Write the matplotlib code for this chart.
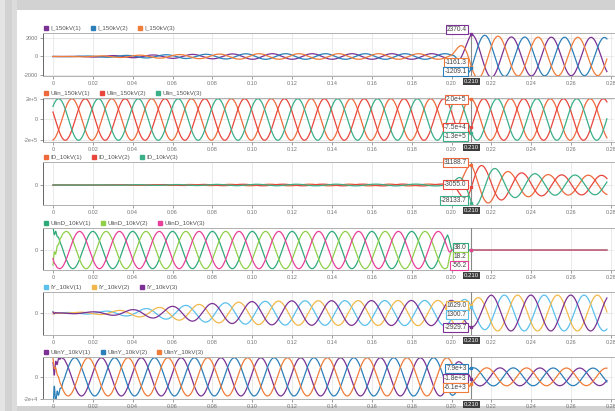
import numpy as np
import matplotlib
matplotlib.use('Agg')
import matplotlib.pyplot as plt
from matplotlib.lines import Line2D
from matplotlib.patches import Rectangle
from matplotlib.ticker import MultipleLocator, FuncFormatter

plt.rcParams['font.family'] = ['Liberation Sans', 'DejaVu Sans']
plt.rcParams['axes.unicode_minus'] = False

# 시간축
f_grid = 50
t_end = 0.278
t_cursor = 0.21
x_tick_step = 0.02

# I_150kV
i150_names = ['I_150kV(1)', 'I_150kV(2)', 'I_150kV(3)']
i150_colors = ['#7b3294', '#2c7fb8', '#f07c3a']
i150_at_cursor = [2370.4, -1209.1, -1161.3]
i150_env_t = [0, 0.02, 0.06, 0.10, 0.20, 0.21, 0.23, 0.278]
i150_env_a = [0, 60, 200, 300, 300, 2370, 2100, 2050]
i150_ylim = (-2100, 2530)
i150_yticks = [-2000, 0, 2000]

# Ulin_150kV
ulin_names = ['Ulin_150kV(1)', 'Ulin_150kV(2)', 'Ulin_150kV(3)']
ulin_colors = ['#ee6a3c', '#e8453c', '#3aaf88']
ulin_at_cursor = [2.0e5, -7.5e4, -1.3e5]
ulin_env_t = [0, 0.278]
ulin_env_a = [2.03e5, 2.03e5]
ulin_ylim = (-2.2e5, 2.1e5)
ulin_yticks = [-2e5, 0, 2e5]

# ID_10kV
id_names = ['ID_10kV(1)', 'ID_10kV(2)', 'ID_10kV(3)']
id_colors = ['#ee6a3c', '#e8453c', '#3aaf88']
id_at_cursor = [31188.7, -3055.0, -28133.7]
id_env_t = [0, 0.05, 0.10, 0.20, 0.21, 0.23, 0.25, 0.278]
id_env_a = [0, 600, 1200, 1500, 34000, 20000, 16000, 15000]
id_ylim = (-31200, 35900)
id_yticks = [0]

# UlinD_10kV
uld_names = ['UlinD_10kV(1)', 'UlinD_10kV(2)', 'UlinD_10kV(3)']
uld_colors = ['#2fa97a', '#8fcf4a', '#e8409a']
uld_at_cursor = [38.0, 18.2, -56.2]
uld_env_t = [0, 0.198, 0.200, 0.278]
uld_env_a = [9800, 9800, 0, 0]
uld_theta = 180  # (1)의 커서 위상
uld_kick = [2500, -3000, 500]
uld_ylim = (-10500, 11600)
uld_yticks = [0]

# IY_10kV
iy_names = ['IY_10kV(1)', 'IY_10kV(2)', 'IY_10kV(3)']
iy_colors = ['#5bc0eb', '#f2b84b', '#7b3294']
iy_at_cursor = [1300.7, 1629.0, -2929.7]
iy_env_t = [0, 0.01, 0.02, 0.04, 0.06, 0.08, 0.10, 0.12, 0.20, 0.21, 0.22, 0.278]
iy_env_a = [0, 150, 250, 700, 1400, 2000, 2400, 2550, 2650, 2950, 3750, 3750]
iy_kick = [300, -250, 200]
iy_ylim = (-4600, 4400)
iy_yticks = [0]

# UlinY_10kV
uly_names = ['UlinY_10kV(1)', 'UlinY_10kV(2)', 'UlinY_10kV(3)']
uly_colors = ['#7b3294', '#2c7fb8', '#f07c3a']
uly_at_cursor = [-1.8e3, 7.9e3, -6.1e3]
uly_env_t = [0, 0.20, 0.21, 0.278]
uly_env_a = [17500, 17500, 8300, 8000]
uly_kick = [9000, -14000, 4000]
uly_ylim = (-20300, 18200)
uly_yticks = [-2e4, 0]


def cursor_angle(vals):
    a, b, c = vals
    alpha = (2 * a - b - c) / 3
    beta = (b - c) / np.sqrt(3)
    return np.degrees(np.arctan2(beta, alpha))


def three_phase(t, env_t, env_a, theta, kick=None):
    env = np.interp(t, env_t, env_a)
    ang = 2 * np.pi * f_grid * (t - t_cursor) + np.deg2rad(theta)
    out = []
    for k, s in enumerate((0, -120, 120)):
        y = env * np.cos(ang + np.deg2rad(s))
        if kick is not None:
            y = y + kick[k] * np.exp(-t / 0.0015) * np.cos(2 * np.pi * 700 * t)
        out.append(y)
    return out


t = np.arange(0, t_end, 5e-5)

panels = [
    (i150_names, i150_colors, i150_at_cursor,
     three_phase(t, i150_env_t, i150_env_a, cursor_angle(i150_at_cursor)), i150_ylim, i150_yticks, 'f'),
    (ulin_names, ulin_colors, ulin_at_cursor,
     three_phase(t, ulin_env_t, ulin_env_a, cursor_angle(ulin_at_cursor)), ulin_ylim, ulin_yticks, 'e'),
    (id_names, id_colors, id_at_cursor,
     three_phase(t, id_env_t, id_env_a, cursor_angle(id_at_cursor)), id_ylim, id_yticks, 'f'),
    (uld_names, uld_colors, uld_at_cursor,
     three_phase(t, uld_env_t, uld_env_a, uld_theta, uld_kick), uld_ylim, uld_yticks, 'f'),
    (iy_names, iy_colors, iy_at_cursor,
     three_phase(t, iy_env_t, iy_env_a, cursor_angle(iy_at_cursor), iy_kick), iy_ylim, iy_yticks, 'f'),
    (uly_names, uly_colors, uly_at_cursor,
     three_phase(t, uly_env_t, uly_env_a, cursor_angle(uly_at_cursor), uly_kick), uly_ylim, uly_yticks, 'e'),
]

W, H = 615, 411
fig = plt.figure(figsize=(W / 100, H / 100), dpi=100, facecolor='#d2d2d2')

# 스크린샷 테두리
fig.patches.append(Rectangle((0, 0), 5 / W, 1, transform=fig.transFigure, fc='#e4e4e4', ec='none', zorder=-10))
fig.patches.append(Rectangle((12 / W, 0), 5 / W, 1, transform=fig.transFigure, fc='#dcdcdc', ec='none', zorder=-10))
fig.patches.append(Rectangle((17 / W, 5 / H), 1, (H - 15) / H, transform=fig.transFigure,
                             fc='white', ec='none', zorder=-9))

rows = [(33, 76), (98, 142), (162, 205), (228, 270), (292, 335), (357, 399)]
left, right = 43, 614


def ytick_fmt(v, pos):
    if v == 0:
        return '0'
    if abs(v) >= 1e4:
        return f'{v:.0e}'.replace('e+0', 'e+').replace('e-0', 'e-')
    return f'{v:.0f}'


box_h = 9.0
for (names, colors, at_cur, series, ylim, yticks, kind), (top, bot) in zip(panels, rows):
    ax = fig.add_axes([left / W, 1 - bot / H, (right - left) / W, (bot - top) / H])
    ax.set_xlim(-0.005, 0.2815)
    ax.set_ylim(*ylim)
    for y, c in zip(series, colors):
        ax.plot(t, y, color=c, lw=0.9)

    ax.xaxis.set_major_locator(MultipleLocator(x_tick_step))
    ax.xaxis.set_major_formatter(FuncFormatter(lambda v, p: '0' if abs(v) < 1e-9 else f'{v:.2f}'))
    ax.set_yticks(yticks)
    ax.yaxis.set_major_formatter(FuncFormatter(ytick_fmt))
    ax.tick_params(axis='both', labelsize=4, colors='#777777', length=2, width=0.5, pad=1.5)
    ax.grid(True, color='#e6e6e6', lw=0.6)
    ax.set_axisbelow(True)
    ax.spines['right'].set_visible(False)
    ax.spines['left'].set_color('#666666')
    ax.spines['top'].set_color('#b0b0b0')
    ax.spines['bottom'].set_color('#b0b0b0')
    for s in ax.spines.values():
        s.set_linewidth(0.7)

    handles = [Line2D([0], [0], marker='s', ls='', color=c, markersize=3) for c in colors]
    ax.legend(handles, names, loc='lower left', bbox_to_anchor=(0, 1), ncol=3, frameon=False,
              fontsize=4.5, handlelength=0.6, handletextpad=0.4, columnspacing=1.6,
              borderaxespad=0.15, borderpad=0.1, labelcolor='#555555')

    # 커서
    ax.axvline(t_cursor, color='#8a8a8a', lw=0.8, zorder=4)
    ax.annotate('0.210', xy=(t_cursor, 0), xycoords=('data', 'axes fraction'), xytext=(0, -2.0),
                textcoords='offset points', ha='center', va='top', fontsize=4.3, color='white',
                bbox=dict(boxstyle='square,pad=0.2', fc='#3d3d3d', ec='none'), zorder=7,
                annotation_clip=False)

    # 값 라벨 (겹치지 않게 아래로 밀기)
    order = np.argsort(at_cur)[::-1]
    pix = [ax.transData.transform((t_cursor, at_cur[i]))[1] for i in order]
    pos = []
    for p in pix:
        if pos and p > pos[-1] - box_h:
            p = pos[-1] - box_h
        pos.append(p)
    ax_bot = (H - bot) + box_h / 2
    if pos[-1] < ax_bot:
        shift = ax_bot - pos[-1]
        pos = [p + shift for p in pos]
    inv = ax.transData.inverted()
    for i, p in zip(order, pos):
        v = at_cur[i]
        txt = f'{v:.1e}'.replace('e+0', 'e+') if kind == 'e' else f'{v:.1f}'
        yb = inv.transform((0, p))[1]
        ax.plot(t_cursor, v, 's', color=colors[i], ms=2, zorder=5, clip_on=False)
        ax.annotate(txt, xy=(t_cursor, yb), xytext=(-3.5, 0), textcoords='offset points',
                    ha='right', va='center', fontsize=4.8, color='#444444',
                    bbox=dict(boxstyle='square,pad=0.15', fc='white', ec=colors[i], lw=0.8),
                    zorder=6, annotation_clip=False)

fig.savefig('out.png', dpi=100, facecolor=fig.get_facecolor())
